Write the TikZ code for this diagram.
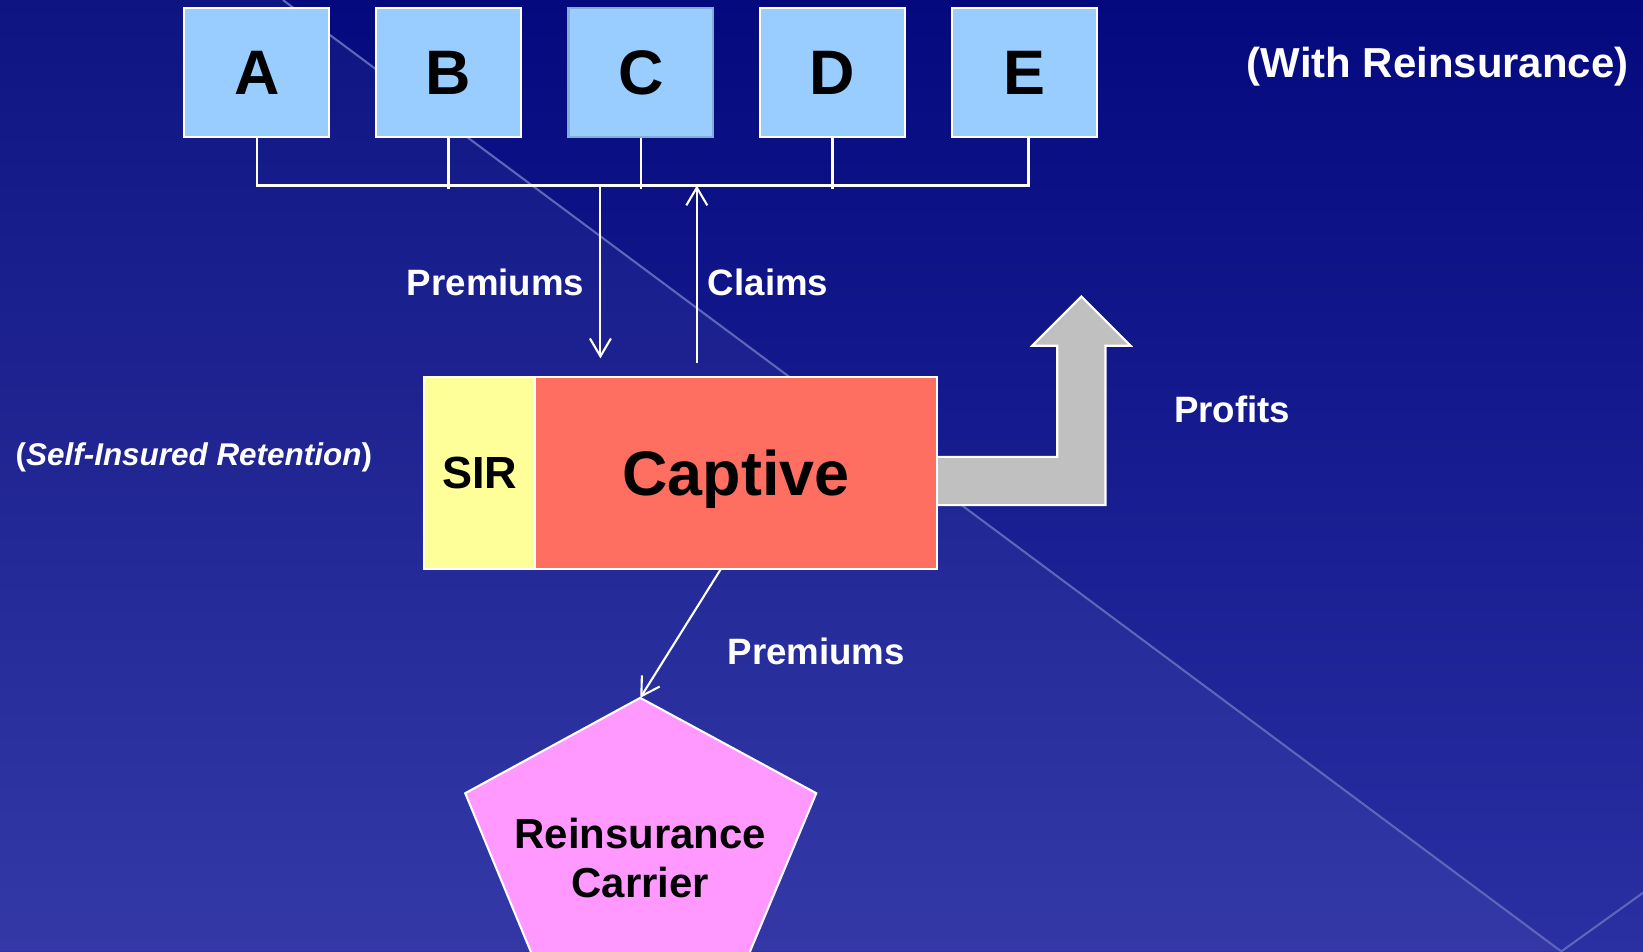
\documentclass[tikz,border=0pt]{standalone}
\usepackage{fontspec}
\setmainfont{Liberation Sans}
\usetikzlibrary{arrows.meta}
\definecolor{bgtop}{RGB}{4,10,125}
\definecolor{bgbot}{RGB}{42,48,162}
\definecolor{boxblue}{RGB}{153,204,255}
\definecolor{capred}{RGB}{255,111,97}
\definecolor{siryel}{RGB}{255,255,153}
\definecolor{pinkc}{RGB}{255,153,255}
\definecolor{grayc}{RGB}{192,192,192}
\definecolor{diag}{RGB}{92,102,186}
\tikzset{
  company/.style={draw=white, line width=2pt, fill=boxblue, minimum width=138pt, minimum height=123pt, inner sep=0pt, text depth=0pt, font=\fontsize{60}{64}\selectfont\bfseries},
  conn/.style={draw=white, line width=2pt},
  arr/.style={conn, -{Straight Barb[length=17pt,width=20pt,line width=2pt]}},
  lbl/.style={text=white, inner sep=0pt, text depth=0pt, font=\fontsize{35}{40}\selectfont\bfseries},
  sirbox/.style={draw=white, line width=2pt, fill=siryel, minimum width=106pt, minimum height=183pt, inner sep=0pt, text depth=0pt, font=\fontsize{43}{46}\selectfont\bfseries},
  capbox/.style={draw=white, line width=2pt, fill=capred, minimum width=383pt, minimum height=183pt, inner sep=0pt, text depth=0pt, font=\fontsize{60}{64}\selectfont\bfseries}
}
\begin{document}
\begin{tikzpicture}[x=1pt,y=-1pt]
\useasboundingbox (0,0) rectangle (1568,908);
\clip (0,0) rectangle (1568,908);
% background
\fill[top color=bgtop, bottom color=bgbot] (0,0) rectangle (1568,908);
\fill[white, opacity=0.045] (0,0) -- (270,0) -- (1490,908) -- (0,908) -- cycle;
\draw[diag, line width=2pt] (270,0) -- (1490,908) -- (1568,852);
% companies
\node[company] (A) at (245,69.5) {A};
\node[company] (B) at (428,69.5) {B};
\node[company, draw=boxblue!85!black] (C) at (611.5,69.5) {C};
\node[company] (D) at (794.5,69.5) {D};
\node[company] (E) at (977.5,69.5) {E};
% bus
\draw[conn] (A.south) -- (A.south |- 0,177) -- ([xshift=4pt]E.south |- 0,177) -- ([xshift=4pt]E.south);
\draw[conn] (B.south) -- (B.south |- 0,180);
\draw[conn] (C.south) -- (C.south |- 0,180);
\draw[conn] (D.south) -- (D.south |- 0,180);
% profits arrow
\filldraw[fill=grayc, draw=white, line width=2pt] (880,436) -- (1009,436) -- (1009,330) -- (985,330) -- (1032,283) -- (1079,330) -- (1055,330) -- (1055,482) -- (880,482);
% captive
\node[sirbox] (sir) at (458,451.5) {SIR};
\node[capbox] (cap) at (702.5,451.5) {Captive};
% premium / claims arrows
\coordinate (pin) at (573,177);
\coordinate (pout) at (573,342);
\coordinate (cin) at (665,346);
\coordinate (cout) at (665,177);
\draw[arr] (pin) -- (pout);
\draw[arr] (cin) -- (cout);
% reinsurance carrier
\coordinate (rtop) at (611,666);
\filldraw[fill=pinkc, draw=white, line width=2pt] (rtop) -- (779,757) -- (694,960) -- (528,960) -- (444,757) -- cycle;
\node[align=center, inner sep=0pt, font=\fontsize{40}{47}\selectfont\bfseries] (rc) at (611,819) {Reinsurance\\Carrier};
\coordinate (cbot) at (688,543);
\draw[arr] (cbot) -- (rtop);
% labels
\node[lbl] (l1) at (473,269) {Premiums};
\node[lbl] (l2) at (733,269) {Claims};
\node[lbl] (l3) at (1176,391) {Profits};
\node[lbl] (l4) at (779,621) {Premiums};
\node[lbl, font=\fontsize{40}{44}\selectfont\bfseries] (l5) at (1372,59) {(With Reinsurance)};
\node[lbl, font=\fontsize{30}{34}\selectfont\bfseries] (l6) at (185,433) {(\textit{Self-Insured Retention})};
\end{tikzpicture}
\end{document}
